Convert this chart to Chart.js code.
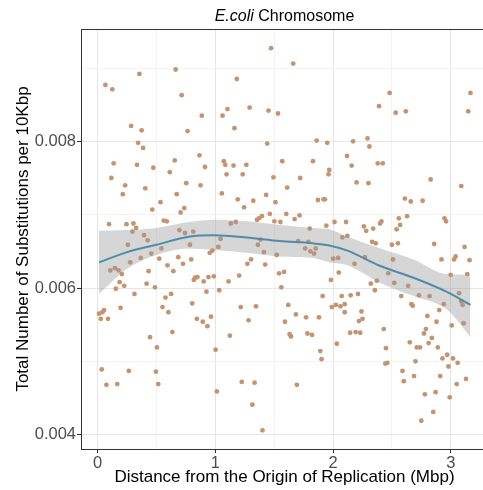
<!DOCTYPE html>
<html>
<head>
<meta charset="utf-8">
<script src="https://cdn.jsdelivr.net/npm/chart.js@4"></script>
<style>
html, body { margin: 0; padding: 0; background: #fff; overflow: hidden; }
#wrap { width: 483px; height: 490px; overflow: hidden; }
</style>
</head>
<body>
<div id="wrap"><canvas id="myChart" width="492" height="490"></canvas></div>
<script>
var titleItalic = 'E.coli';
var titleRest = ' Chromosome';
var xTitle = 'Distance from the Origin of Replication (Mbp)';
var yTitle = 'Total Number of Substitutions per 10Kbp';
var xTicks = [0, 1, 2, 3];
var yTicks = [0.004, 0.006, 0.008];

// distance (Mbp) of each 10Kbp window
var distMbp = [
  0.356, 0.664, 0.067, 0.126, 0.715, 0.886, 0.286, 0.375, 0.765, 0.345, 0.387, 0.866, 0.137, 0.336, 0.656, 0.913,
  1.474, 1.662, 1.183, 1.104, 1.062, 1.292, 1.452, 1.533, 1.163, 1.441, 1.861, 1.951, 1.073, 1.085, 1.155, 1.264, 1.569, 1.830, 2.119,
  3.167, 3.148, 2.481, 2.391, 2.532, 2.618, 2.293, 2.170, 2.309, 2.158, 2.380, 2.422,
  0.474, 0.614, 0.118, 0.235, 0.215, 0.406, 0.754, 0.875, 0.673, 0.535, 0.465, 0.737, 0.706, 0.098, 0.246, 0.305,
  0.328, 0.297, 0.563, 0.589, 0.395, 0.426, 0.695, 0.743, 0.813, 0.785, 0.258, 0.543, 0.457, 0.367, 0.524, 0.686,
  0.796, 0.953, 0.976, 0.278, 0.726, 0.594, 0.109, 0.148, 0.179, 0.207, 0.434, 0.644, 0.829, 0.849, 0.818, 0.902,
  0.942, 0.988, 0.188, 0.227, 0.156, 0.417, 0.488, 0.314, 0.925, 0.577, 0.625, 0.804, 0.552, 0.196,
  1.096, 1.233, 1.494, 1.721, 1.968, 1.962, 1.056, 1.432, 1.611, 1.191, 1.323, 1.511, 1.872, 1.920, 1.931, 1.245,
  1.354, 1.371, 1.396, 1.463, 1.603, 1.716, 1.674, 1.502, 1.553, 1.132, 1.174, 1.802, 1.943, 2.013, 2.111, 1.045,
  1.026, 1.384, 1.362, 1.704, 1.791, 1.763, 1.808, 1.839, 1.853, 1.413, 1.522, 2.080, 2.122, 1.304, 1.273, 1.424,
  2.002, 2.044, 2.049, 1.542, 1.584, 1.203, 1.113, 1.982, 1.561, 1.034, 1.912, 2.074, 1.620, 1.346, 1.216, 1.990,
  2.024, 2.063, 2.099,
  2.200, 2.301, 2.829, 3.089, 2.610, 2.660, 2.761, 2.262, 2.282, 2.341, 2.400, 2.411, 2.559, 2.629, 2.570, 2.540,
  2.946, 2.960, 2.332, 2.363, 2.500, 2.551, 2.859, 3.117, 2.271, 2.509, 2.183, 2.921, 3.028, 3.041, 3.159, 2.469,
  2.999, 3.140, 2.372, 2.321, 2.520, 2.638, 2.355, 2.150, 2.212, 2.579, 2.730, 2.820, 3.070, 2.666, 2.677, 2.940,
  3.089, 3.100,
  0.013, 0.042, 0.056, 0.028, 0.089, 0.602, 0.844, 0.894, 0.933, 0.964, 0.636, 0.446, 0.505, 0.036, 0.266, 0.496,
  0.076, 0.168, 0.516,
  1.685, 1.771, 1.881, 2.099, 1.283, 1.592, 1.124, 1.632, 1.643, 1.783, 1.822, 2.032, 1.003, 1.892, 1.903, 1.225,
  1.334, 1.014, 1.693, 1.315, 1.401,
  2.242, 2.220, 2.251, 2.145, 2.192, 2.231, 2.431, 2.902, 2.801, 2.879, 3.008, 3.109, 2.789, 2.772, 2.839, 2.812,
  2.652, 2.711, 2.739, 2.890, 2.450, 2.969, 2.929, 3.019, 3.058, 2.980, 2.700, 2.444, 2.461, 2.590, 2.601, 2.688,
  2.910, 3.129, 3.050, 2.780, 2.871, 2.991, 2.851, 2.750
];

// substitutions per 10Kbp, same order as distMbp
var substRate = [
  0.00892, 0.00898, 0.00877, 0.00871, 0.00863, 0.00835, 0.00821, 0.00815, 0.00814, 0.00798, 0.00791, 0.00781, 0.00770, 0.00768, 0.00774, 0.00765,
  0.00927, 0.00906, 0.00885, 0.00844, 0.00835, 0.00846, 0.00842, 0.00838, 0.00818, 0.00797, 0.00801, 0.00798, 0.00773, 0.00768, 0.00767, 0.00768, 0.00773, 0.00773, 0.00780,
  0.00866, 0.00841, 0.00866, 0.00848, 0.00839, 0.00841, 0.00804, 0.00800, 0.00793, 0.00767, 0.00770, 0.00770,
  0.00764, 0.00758, 0.00750, 0.00740, 0.00728, 0.00736, 0.00743, 0.00740, 0.00728, 0.00717, 0.00707, 0.00709, 0.00703, 0.00687, 0.00687, 0.00688,
  0.00682, 0.00677, 0.00692, 0.00691, 0.00672, 0.00665, 0.00679, 0.00675, 0.00677, 0.00659, 0.00659, 0.00654, 0.00647, 0.00641, 0.00640, 0.00642,
  0.00639, 0.00648, 0.00651, 0.00635, 0.00633, 0.00631, 0.00624, 0.00627, 0.00624, 0.00619, 0.00623, 0.00623, 0.00614, 0.00615, 0.00611, 0.00609,
  0.00615, 0.00616, 0.00608, 0.00603, 0.00599, 0.00606, 0.00601, 0.00592, 0.00595, 0.00587, 0.00592, 0.00579, 0.00574, 0.00573,
  0.00755, 0.00755, 0.00751, 0.00750, 0.00761, 0.00755, 0.00729, 0.00727, 0.00737, 0.00721, 0.00719, 0.00717, 0.00720, 0.00721, 0.00721, 0.00710,
  0.00693, 0.00695, 0.00698, 0.00701, 0.00701, 0.00699, 0.00694, 0.00691, 0.00690, 0.00688, 0.00690, 0.00681, 0.00685, 0.00690, 0.00690, 0.00667,
  0.00656, 0.00666, 0.00659, 0.00664, 0.00663, 0.00654, 0.00650, 0.00647, 0.00654, 0.00649, 0.00645, 0.00669, 0.00671, 0.00639, 0.00633, 0.00632,
  0.00640, 0.00641, 0.00621, 0.00620, 0.00622, 0.00617, 0.00609, 0.00611, 0.00601, 0.00597, 0.00589, 0.00589, 0.00577, 0.00575, 0.00574, 0.00574,
  0.00577, 0.00575, 0.00578,
  0.00744, 0.00743, 0.00748, 0.00739, 0.00722, 0.00718, 0.00719, 0.00684, 0.00678, 0.00681, 0.00688, 0.00691, 0.00695, 0.00698, 0.00686, 0.00680,
  0.00695, 0.00691, 0.00663, 0.00661, 0.00659, 0.00661, 0.00660, 0.00656, 0.00642, 0.00639, 0.00633, 0.00639, 0.00639, 0.00643, 0.00638, 0.00620,
  0.00618, 0.00619, 0.00610, 0.00606, 0.00607, 0.00603, 0.00597, 0.00590, 0.00592, 0.00589, 0.00590, 0.00589, 0.00593, 0.00578, 0.00576, 0.00578,
  0.00582, 0.00577,
  0.00565, 0.00567, 0.00570, 0.00558, 0.00558, 0.00567, 0.00558, 0.00554, 0.00548, 0.00561, 0.00540, 0.00533, 0.00519, 0.00489, 0.00487, 0.00486,
  0.00468, 0.00469, 0.00469,
  0.00564, 0.00560, 0.00560, 0.00567, 0.00556, 0.00554, 0.00535, 0.00537, 0.00534, 0.00538, 0.00536, 0.00524, 0.00516, 0.00514, 0.00503, 0.00472,
  0.00471, 0.00459, 0.00468, 0.00441, 0.00406,
  0.00568, 0.00555, 0.00558, 0.00539, 0.00540, 0.00539, 0.00544, 0.00570, 0.00562, 0.00554, 0.00549, 0.00552, 0.00544, 0.00538, 0.00532, 0.00525,
  0.00526, 0.00519, 0.00519, 0.00519, 0.00518, 0.00509, 0.00504, 0.00504, 0.00498, 0.00493, 0.00500, 0.00497, 0.00498, 0.00487, 0.00473, 0.00480,
  0.00480, 0.00476, 0.00469, 0.00455, 0.00458, 0.00451, 0.00431, 0.00419
];

// loess fit and its confidence band
var smoothX     = [0.013, 0.25, 0.5, 0.776, 0.987, 1.267, 1.547, 1.828, 1.968, 2.122, 2.402, 2.683, 2.963, 3.167];
var smoothFit   = [0.00635, 0.00649, 0.00659, 0.00670, 0.00672, 0.00669, 0.00664, 0.00661, 0.00658, 0.00651, 0.00630, 0.00614, 0.00595, 0.00577];
var smoothUpper = [0.00678, 0.00679, 0.00682, 0.00690, 0.00693, 0.00691, 0.00686, 0.00682, 0.00680, 0.00670, 0.00654, 0.00639, 0.00619, 0.00618];
var smoothLower = [0.00592, 0.00626, 0.00645, 0.00654, 0.00652, 0.00648, 0.00643, 0.00641, 0.00635, 0.00631, 0.00607, 0.00589, 0.00571, 0.00533];

Chart.defaults.font.family = '"Liberation Sans", Arial, sans-serif';

function pairs(xs, ys) {
    return xs.map(function (x, i) { return { x: x, y: ys[i] }; });
}
function hasTick(list, v) {
    return list.some(function (t) { return Math.abs(t - v) < 1e-9; });
}

var panelDecor = {
    id: 'panelDecor',
    afterDraw: function (chart) {
        var ctx = chart.ctx;
        var a = chart.chartArea;
        ctx.save();
        ctx.strokeStyle = '#333333';
        ctx.lineWidth = 1;
        ctx.beginPath();
        ctx.moveTo(a.left, a.top + 0.5);
        ctx.lineTo(a.right, a.top + 0.5);
        ctx.moveTo(a.right - 0.5, a.top);
        ctx.lineTo(a.right - 0.5, a.bottom);
        ctx.stroke();

        ctx.fillStyle = '#000';
        ctx.textBaseline = 'alphabetic';
        ctx.font = 'italic 16px "Liberation Sans", Arial, sans-serif';
        var w1 = ctx.measureText(titleItalic).width;
        ctx.font = '16px "Liberation Sans", Arial, sans-serif';
        var w2 = ctx.measureText(titleRest).width;
        var x0 = (a.left + a.right) / 2 - (w1 + w2) / 2;
        ctx.font = 'italic 16px "Liberation Sans", Arial, sans-serif';
        ctx.fillText(titleItalic, x0, 21);
        ctx.font = '16px "Liberation Sans", Arial, sans-serif';
        ctx.fillText(titleRest, x0 + w1, 21);
        ctx.restore();
    }
};

function gridColor(isMajor) {
    return function (c) { return isMajor(c.tick.value) ? '#e6e6e6' : '#f3f3f3'; };
}
function tickColor(isMajor) {
    return function (c) { return isMajor(c.tick.value) ? '#333333' : 'rgba(0,0,0,0)'; };
}
var xMajor = function (v) { return hasTick(xTicks, v); };
var yMajor = function (v) { return hasTick(yTicks, v); };

const ctx = document.getElementById('myChart').getContext('2d');
const myChart = new Chart(ctx, {
    type: 'scatter',
    data: {
        datasets: [{
            type: 'line',
            label: 'loess',
            data: pairs(smoothX, smoothFit),
            borderColor: '#528ba9',
            borderWidth: 2,
            pointRadius: 0,
            cubicInterpolationMode: 'monotone',
            fill: false
        }, {
            type: 'line',
            label: 'upper',
            data: pairs(smoothX, smoothUpper),
            borderWidth: 0,
            borderColor: 'rgba(0,0,0,0)',
            backgroundColor: 'rgba(153,153,153,0.4)',
            pointRadius: 0,
            cubicInterpolationMode: 'monotone',
            fill: 2
        }, {
            type: 'line',
            label: 'lower',
            data: pairs(smoothX, smoothLower),
            borderWidth: 0,
            borderColor: 'rgba(0,0,0,0)',
            pointRadius: 0,
            cubicInterpolationMode: 'monotone',
            fill: false
        }, {
            label: 'windows',
            data: pairs(distMbp, substRate),
            backgroundColor: '#c69370',
            borderWidth: 0,
            pointRadius: 2.4
        }]
    },
    options: {
        responsive: false,
        animation: false,
        devicePixelRatio: 1,
        layout: { padding: { top: 29, left: 0, right: 0, bottom: 0 } },
        plugins: {
            legend: { display: false },
            title: { display: false },
            tooltip: { enabled: false }
        },
        scales: {
            x: {
                type: 'linear',
                min: -0.14,
                max: 3.316,
                afterFit: function (s) { s.height = 41; },
                ticks: {
                    stepSize: 0.5,
                    includeBounds: false,
                    autoSkip: false,
                    maxRotation: 0,
                    padding: 1,
                    color: '#4d4d4d',
                    font: { size: 16.5 },
                    callback: function (v) { return xMajor(v) ? String(Math.round(v)) : ''; }
                },
                grid: {
                    color: gridColor(xMajor),
                    tickColor: tickColor(xMajor),
                    tickLength: 4,
                    lineWidth: 1
                },
                border: { display: true, color: '#333333', width: 1 },
                title: {
                    display: true,
                    text: xTitle,
                    color: '#000',
                    font: { size: 17 },
                    padding: { top: 0, bottom: 2.4 }
                }
            },
            y: {
                type: 'linear',
                min: 0.003805,
                max: 0.009532,
                afterFit: function (s) { s.width = 81; },
                ticks: {
                    stepSize: 0.001,
                    includeBounds: false,
                    autoSkip: false,
                    padding: 1,
                    color: '#4d4d4d',
                    font: { size: 16.5 },
                    callback: function (v) { return yMajor(v) ? v.toFixed(3) : ''; }
                },
                grid: {
                    color: gridColor(yMajor),
                    tickColor: tickColor(yMajor),
                    tickLength: 4,
                    lineWidth: 1
                },
                border: { display: true, color: '#333333', width: 1 },
                title: {
                    display: true,
                    text: yTitle,
                    color: '#000',
                    font: { size: 17 },
                    padding: { top: 13, bottom: 0 }
                }
            }
        }
    },
    plugins: [panelDecor]
});
</script>
</body>
</html>
